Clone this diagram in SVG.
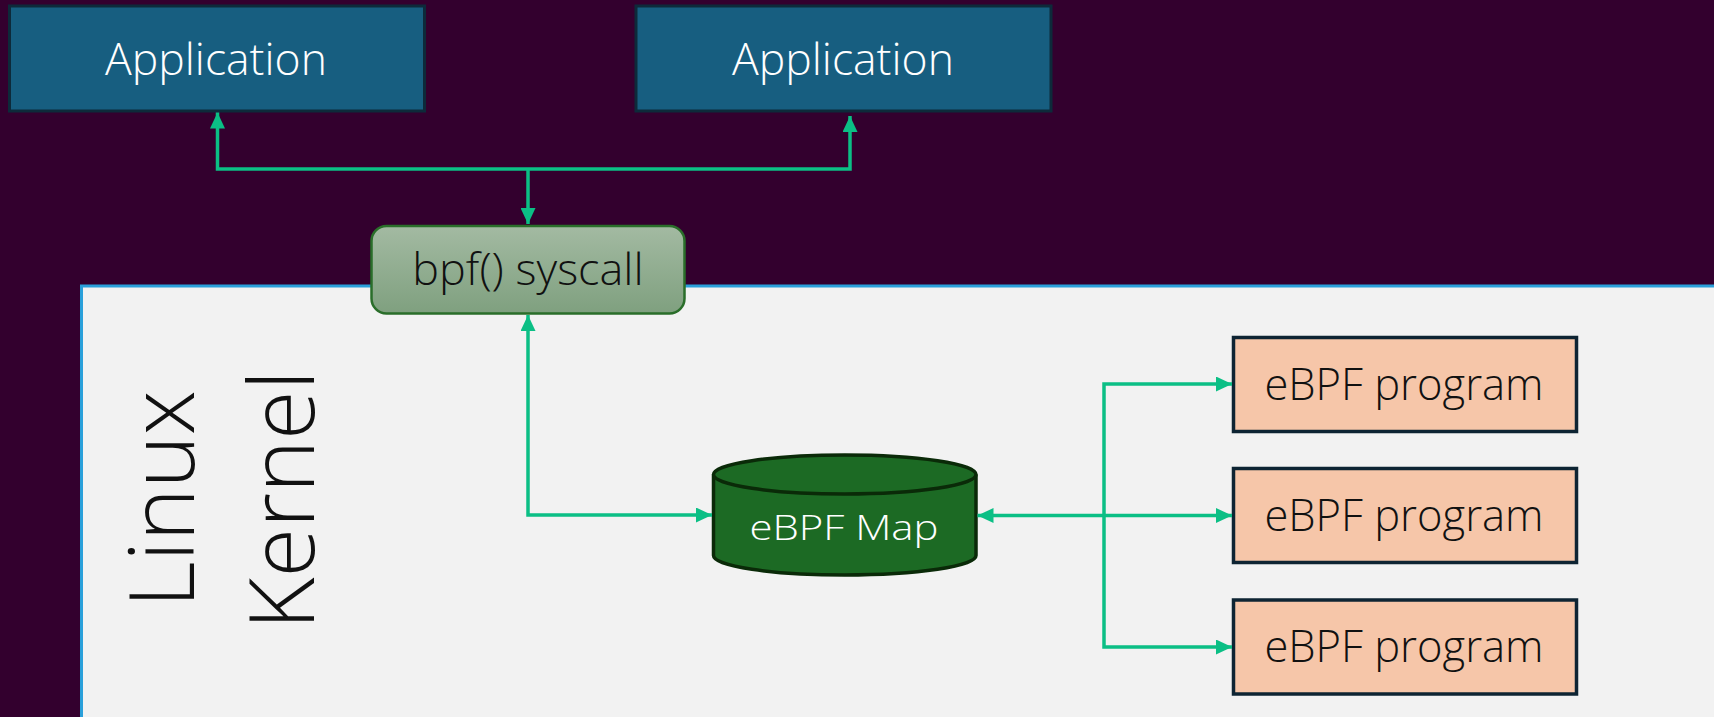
<svg xmlns="http://www.w3.org/2000/svg" width="1714" height="717" viewBox="0 0 1714 717">
<style>
.txt{font-family:"Open Sans","Noto Sans","Liberation Sans",sans-serif;font-weight:300;text-anchor:middle}
.app rect{fill:#175e80;stroke:#0d2a3a;stroke-width:3}
.app text{fill:#ffffff;font-size:44.5px}
.prog rect{fill:#f6c6a9;stroke:#0e2433;stroke-width:3.5}
.prog text{fill:#111111;font-size:43.5px}
.conn path{fill:none;stroke:#0bbf85;stroke-width:3.5;stroke-linejoin:miter}
.big{font-size:90px;fill:#111111}
</style>
<defs>
<marker id="ah" markerUnits="userSpaceOnUse" markerWidth="16" markerHeight="15" refX="16" refY="7.5" orient="auto-start-reverse" viewBox="0 0 16 15">
<path d="M0,0 L16,7.5 L0,15 z" fill="#0bbf85"/>
</marker>
<linearGradient id="bpfg" x1="0" y1="0" x2="0" y2="1">
<stop offset="0" stop-color="#a3baa2"/>
<stop offset="1" stop-color="#7fa07f"/>
</linearGradient>
</defs>
<rect x="0" y="0" width="1714" height="717" fill="#33002e"/>
<g id="kernel">
<rect x="81.5" y="286" width="1700" height="500" fill="#f2f2f2" stroke="#2aa0da" stroke-width="3"/>
<text class="txt big" transform="translate(194,499) rotate(-90)">Linux</text>
<text class="txt big" transform="translate(314,500) rotate(-90)">Kernel</text>
</g>
<g id="app1" class="app">
<rect x="9.5" y="6" width="415" height="105"/>
<text class="txt" x="216" y="75">Application</text>
</g>
<g id="app2" class="app">
<rect x="636" y="6" width="415" height="105"/>
<text class="txt" x="843" y="75">Application</text>
</g>
<g id="bpf">
<rect x="371.5" y="226" width="313" height="87.5" rx="15" fill="url(#bpfg)" stroke="#2a6e2a" stroke-width="2.5"/>
<text class="txt" x="528" y="285" font-size="45" fill="#111111">bpf() syscall</text>
</g>
<g id="map">
<path d="M713.5,474.5 V555.5 A131.25,19.5 0 0 0 976,555.5 V474.5" fill="#1c6a24" stroke="#0a2a08" stroke-width="3.5"/>
<ellipse cx="844.75" cy="474.5" rx="131.25" ry="19.5" fill="#1c6a24" stroke="#0a2a08" stroke-width="3.5"/>
<text class="txt" x="844" y="540" font-size="35" fill="#ffffff" textLength="189" lengthAdjust="spacingAndGlyphs">eBPF Map</text>
</g>
<g id="prog1" class="prog">
<rect x="1233.5" y="337.5" width="343" height="94"/>
<text class="txt" x="1404" y="399.5">eBPF program</text>
</g>
<g id="prog2" class="prog">
<rect x="1233.5" y="468.5" width="343" height="94"/>
<text class="txt" x="1404" y="530.5">eBPF program</text>
</g>
<g id="prog3" class="prog">
<rect x="1233.5" y="600" width="343" height="94"/>
<text class="txt" x="1404" y="662">eBPF program</text>
</g>
<g id="connectors" class="conn">
<path d="M528,169 V224" marker-end="url(#ah)"/>
<path d="M528,169 H217.5 V112.5" marker-end="url(#ah)"/>
<path d="M528,169 H850 V116" marker-end="url(#ah)"/>
<path d="M528,315 V515 H712" marker-start="url(#ah)" marker-end="url(#ah)"/>
<path d="M977.5,515.5 H1232" marker-start="url(#ah)" marker-end="url(#ah)"/>
<path d="M1104,515.5 V384 H1232" marker-end="url(#ah)"/>
<path d="M1104,515.5 V647 H1232" marker-end="url(#ah)"/>
</g>
</svg>
